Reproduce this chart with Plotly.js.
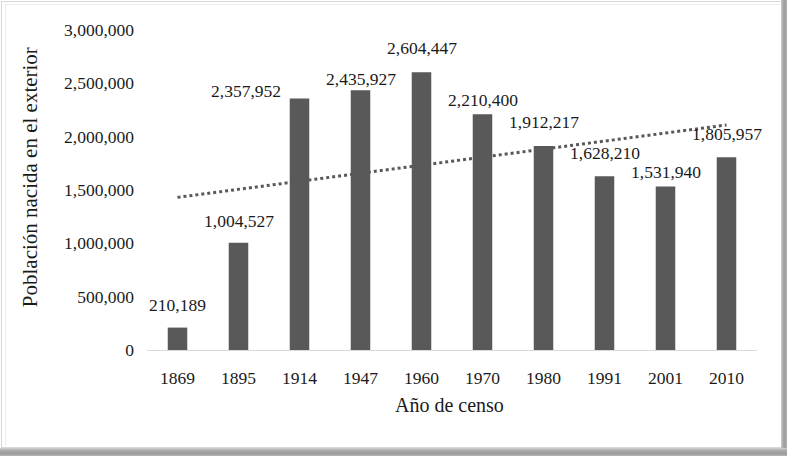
<!DOCTYPE html>
<html>
<head>
<meta charset="utf-8">
<script src="https://cdn.plot.ly/plotly-3.0.1.min.js"></script>
<style>
  html, body { margin: 0; padding: 0; background: #ffffff; }
  #wrap { position: relative; width: 787px; height: 456px; overflow: hidden; background: #ffffff; }
  #chart { position: absolute; left: 0; top: 0; width: 787px; height: 456px; }
  .frame { position: absolute; pointer-events: none; }
</style>
</head>
<body>
<div id="wrap">
  <div id="chart"></div>
  <div class="frame" style="left:1px; top:1px; width:779px; height:445px; border:1px solid #d6d6d6;"></div>
  <div class="frame" style="left:5px; top:4px; width:1px; height:441px; background:#ececec;"></div>
  <div class="frame" style="left:5px; top:4px; width:775px; height:1px; background:#ececec;"></div>
  <div class="frame" style="left:781px; top:0px; width:6px; height:456px; background:linear-gradient(to right,#d0d0d0,#a8a8a8,#9c9c9c,#b4b4b4);"></div>
  <div class="frame" style="left:0px; top:448px; width:787px; height:8px; background:linear-gradient(to bottom,#d0d0d0,#a8a8a8,#9c9c9c,#b4b4b4);"></div>
</div>
<script>
// Data
const years = ['1869', '1895', '1914', '1947', '1960', '1970', '1980', '1991', '2001', '2010'];
const population = [210189, 1004527, 2357952, 2435927, 2604447, 2210400, 1912217, 1628210, 1531940, 1805957];
const labels = ['210,189', '1,004,527', '2,357,952', '2,435,927', '2,604,447', '2,210,400', '1,912,217', '1,628,210', '1,531,940', '1,805,957'];
const trendYears = ['1869', '2010'];
const trendValues = [1430906, 2109447];
const yTickVals = [0, 500000, 1000000, 1500000, 2000000, 2500000, 3000000];
const yTickText = ['0', '500,000', '1,000,000', '1,500,000', '2,000,000', '2,500,000', '3,000,000'];

// Label placement (style, pixels): horizontal nudge and gap above the bar top
const labelDx = [0, 0, -54, 0, 0, 0, 0, 0, 0, 0];
const labelDy = [10.5, 10.2, -4.5, -0.5, 12.2, 2.5, 12.2, 11.2, 2.5, 11.5];

const FONT = 'Liberation Serif, Times New Roman, serif';
const TXT = '#1a1a1a';
const BAR = '#595959';

const traces = [
  {
    type: 'bar',
    x: years,
    y: population,
    marker: { color: BAR, line: { width: 0 } },
    hoverinfo: 'skip',
    showlegend: false
  },
  {
    type: 'scatter',
    mode: 'lines',
    x: trendYears,
    y: trendValues,
    line: { color: BAR, width: 3, dash: 'dot' },
    hoverinfo: 'skip',
    showlegend: false
  }
];

// annotation x uses the category index (numeric-looking category names would be read as indices)
const annotations = years.map((yr, i) => ({
  x: i, y: population[i], xref: 'x', yref: 'y',
  text: labels[i], showarrow: false,
  xanchor: 'center', yanchor: 'bottom', yshift: labelDy[i], xshift: labelDx[i],
  font: { family: FONT, size: 17.5, color: TXT }
}));

annotations.push({
  x: 0, y: 0.54, xref: 'paper', yref: 'paper',
  xanchor: 'center', yanchor: 'middle', xshift: -117,
  text: 'Población nacida en el exterior', textangle: -90, showarrow: false,
  font: { family: FONT, size: 21, color: TXT }
});
annotations.push({
  x: 0.5, y: 0, xref: 'paper', yref: 'paper',
  xanchor: 'center', yanchor: 'middle', yshift: -55, xshift: -3,
  text: 'Año de censo', showarrow: false,
  font: { family: FONT, size: 20, color: TXT }
});

const layout = {
  width: 787, height: 456,
  margin: { l: 147, r: 30, t: 30, b: 106 },
  paper_bgcolor: '#ffffff', plot_bgcolor: '#ffffff',
  font: { family: FONT, color: TXT, size: 17.5 },
  bargap: 0.68,
  xaxis: {
    type: 'category',
    categoryorder: 'array', categoryarray: years,
    range: [-0.5, years.length - 0.5],
    showgrid: false, zeroline: false,
    showline: true, linecolor: '#d9d9d9', linewidth: 1,
    ticks: '', ticklabelstandoff: 12,
    tickfont: { family: FONT, size: 17.5, color: TXT },
    fixedrange: true
  },
  yaxis: {
    range: [0, 3000000],
    tickvals: yTickVals, ticktext: yTickText,
    showgrid: false, zeroline: false, showline: false,
    ticks: '', ticklabelstandoff: 12,
    tickfont: { family: FONT, size: 17.5, color: TXT },
    fixedrange: true
  },
  annotations: annotations,
  showlegend: false
};

Plotly.newPlot('chart', traces, layout, { displayModeBar: false, staticPlot: true });
</script>
</body>
</html>
